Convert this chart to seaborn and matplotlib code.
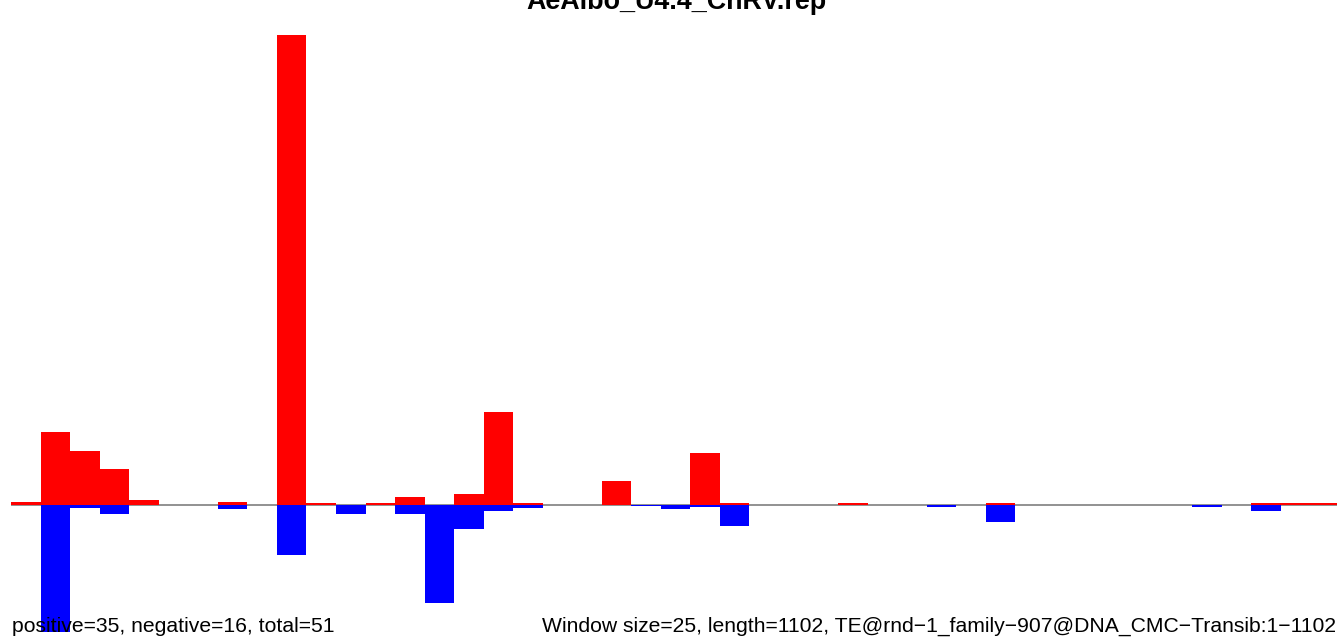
import numpy as np
import pandas as pd
import matplotlib
matplotlib.use("Agg")
import matplotlib.pyplot as plt
import seaborn as sns

# windows of 25 bp along a 1102 bp element
n_windows = 45
window = np.arange(n_windows)

# positive strand signal
positive = [2.5, 72.5, 53.5, 35.5, 4.5, 0, 0, 2.5, 0, 469.5,
            1.5, 0, 1.5, 7.5, 0, 10.5, 92.5, 1.5, 0, 0,
            23.5, 0, 0, 51.5, 1.5, 0, 0, 0, 1.5, 0,
            0, 0, 0, 1.5, 0, 0, 0, 0, 0, 0,
            0, 0, 1.5, 1.5, 1.5]

# negative strand signal (depth below zero)
negative = [0, 127.8, 3.2, 9.5, 0, 0, 0, 4.5, 0, 50.5,
            0, 9.5, 0, 9.5, 98.2, 24.2, 6.2, 3.2, 0, 0,
            0, 1.2, 4.5, 2.5, 21.5, 0, 0, 0, 0, 0,
            0, 2.0, 0, 17.0, 0, 0, 0, 0, 0, 0,
            2.0, 0, 6.0, 0, 0]

title = "AeAlbo_U4.4_CnRV.rep"
left_note = "positive=35, negative=16, total=51"
right_note = ("Window size=25, length=1102, "
              "TE@rnd\u22121_family\u2212907@DNA_CMC\u2212Transib:1\u22121102")

df = pd.DataFrame({
    "window": window,
    "pos": positive,
    "neg": [-v for v in negative],
})

sns.set_style("white")
plt.rcParams["font.family"] = ["Liberation Sans", "DejaVu Sans"]
plt.rcParams["text.color"] = "black"

fig = plt.figure(figsize=(13.37, 6.37), dpi=100)
ax = fig.add_axes([0, 0, 1, 1])

ax.hlines(0, -0.5, n_windows - 0.5, color="#7f7f7f", linewidth=1.2, zorder=0)
sns.barplot(data=df, x="window", y="pos", color="#ff0000", saturation=1,
            width=1, linewidth=0, errorbar=None, ax=ax, zorder=2)
sns.barplot(data=df, x="window", y="neg", color="#0000ff", saturation=1,
            width=1, linewidth=0, errorbar=None, ax=ax, zorder=2)

ax.set_xlim(-0.879, 44.397)
ax.set_ylim(-132.5, 504.5)
ax.axis("off")

fig.text(676 / 1337, 1 - 9 / 637, title, ha="center", va="baseline",
         fontsize=19.4, fontweight="bold", color="black")
fig.text(12 / 1337, 1 - 632 / 637, left_note, ha="left", va="baseline",
         fontsize=15.25, color="black")
fig.text(1336 / 1337, 1 - 632 / 637, right_note, ha="right", va="baseline",
         fontsize=15.25, color="black")

fig.savefig("out.png", dpi=100, facecolor="white")
